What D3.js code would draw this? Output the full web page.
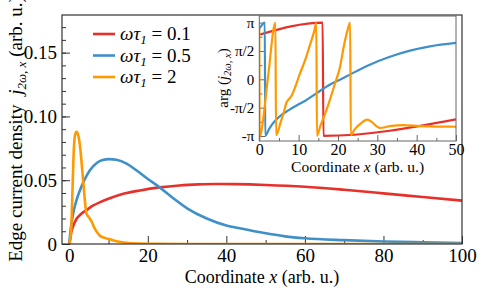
<!DOCTYPE html>
<html>
<head>
<meta charset="utf-8">
<script src="https://cdn.jsdelivr.net/npm/d3@7"></script>
<style>
  body { margin: 0; background: #fff; }
  svg text { font-family: 'Liberation Serif', 'Times New Roman', Times, 'DejaVu Serif', serif; fill: #000; }
</style>
</head>
<body>
<div id="chart"></div>
<script>
// main panel: edge current density vs coordinate
const redX = [0, 0.2, 0.5, 1, 1.9, 3, 4.4, 6, 8, 10.3, 14, 18, 23, 28, 33, 37, 42, 50, 60, 70, 80, 90, 100]
const redY = [0, 0.003, 0.009, 0.014, 0.020, 0.0235, 0.0266, 0.030, 0.033, 0.0358, 0.0395, 0.042, 0.0444, 0.0459, 0.0467, 0.047, 0.0469, 0.0463, 0.0449, 0.0425, 0.0397, 0.0368, 0.034]

const blueX = [0, 0.3, 1, 2, 2.7, 4, 5.3, 7, 8.5, 10.2, 12, 14.6, 17, 20, 23, 26, 30, 35, 40, 43.4, 50, 55, 60, 70, 80, 90, 100]
const blueY = [0, 0.010, 0.024, 0.036, 0.042, 0.051, 0.058, 0.0635, 0.0658, 0.0665, 0.066, 0.063, 0.058, 0.051, 0.0444, 0.037, 0.028, 0.020, 0.0145, 0.0123, 0.0084, 0.006, 0.0045, 0.003, 0.002, 0.0013, 0.0008]

const orangeX = [0, 0.2, 0.5, 0.8, 1.1, 1.5, 1.9, 2.3, 2.8, 3.3, 3.8, 4.4, 5.0, 5.7, 6.5, 7.8, 9, 10.3, 12, 14.6, 18, 22, 30, 40, 60, 80, 100]
const orangeY = [0, 0.003, 0.012, 0.040, 0.070, 0.086, 0.088, 0.085, 0.075, 0.058, 0.040, 0.0235, 0.021, 0.0175, 0.012, 0.0065, 0.0048, 0.0037, 0.0022, 0.001, 0.0004, 0.0002, 0, 0, 0, 0, 0]

const legendLabels = ['0.1', '0.5', '2']
const mainXTicks = [0, 20, 40, 60, 80, 100]
const mainYTicks = [0, 0.05, 0.10, 0.15]
const mainYTickLabels = ['0', '0.05', '0.10', '0.15']

// inset: phase arg(j) vs coordinate, wrapped to [-pi, pi]
const redPhaseX = [0, 16.1, 16.3, 50]
const redPhaseY = [2.47, 3.14, -3.14, -2.22]

const bluePhaseX = [0, 1.4, 1.5, 2.5, 4, 5.5, 7.4, 9.5, 11.6, 14.5, 17.9, 20.5, 23, 28.1, 33.2, 38.3, 43.4, 50]
const bluePhaseY = [2.80, 3.14, -3.13, -2.75, -2.3, -2.0, -1.72, -1.45, -1.2, -0.78, -0.30, -0.02, 0.26, 0.81, 1.25, 1.59, 1.83, 2.02]

const orangePhaseX = [0, 0.1, 0.25, 2.2, 4.1, 4.25, 4.8, 5.4, 6.1, 6.95, 7.5, 8.2, 9.1, 10.3, 11.6, 12.8, 14.0, 14.5, 14.65, 15.5, 16.7, 18, 19.2, 20.5, 21.6, 22.4, 23.1, 23.25, 24.3, 25.5, 27.5, 28.5, 29.8, 30.7, 33.2, 36.6, 40.8, 45, 50]
const orangePhaseY = [2.9, -3.14, -3.1, 0.1, 3.14, -3.1, -2.85, -2.4, -1.93, -1.27, -1.1, -0.91, -0.44, 0.3, 1.03, 1.85, 2.70, 3.14, -3.14, -2.6, -1.93, -1.1, -0.26, 0.67, 1.96, 2.7, 3.14, -3.1, -2.76, -2.5, -2.24, -2.35, -2.6, -2.7, -2.6, -2.54, -2.59, -2.62, -2.63]

const insetXTicks = [0, 10, 20, 30, 40, 50]
const insetYTicks = [-Math.PI, -Math.PI / 2, 0, Math.PI / 2, Math.PI]
const insetYTickLabels = ['-π', '-π/2', '0', 'π/2', 'π']

const colors = ['#e8302a', '#3f8fc9', '#ff9900']
const serif = "'Liberation Serif', 'Times New Roman', Times, 'DejaVu Serif', serif"

var width = 486,
  height = 292

var svg = d3
  .select('#chart')
  .append('svg')
  .attr('width', width)
  .attr('height', height)
  .attr('font-family', serif)

// main scales
var x = d3.scaleLinear().domain([-1.85, 100]).range([62, 462])
var y = d3.scaleLinear().domain([0, 0.1795]).range([244, 15])

svg.append('clipPath').attr('id', 'clipMain')
  .append('rect').attr('x', 62).attr('y', 15).attr('width', 400).attr('height', 229)

// minor ticks
svg.append('g')
  .attr('transform', 'translate(0,244)')
  .call(d3.axisBottom(x).tickValues([10, 30, 50, 70, 90]).tickSize(-4).tickFormat(''))
  .call(g => g.select('.domain').remove())
svg.append('g')
  .attr('transform', 'translate(62,0)')
  .call(d3.axisLeft(y).tickValues(d3.range(1, 18).map(d => d / 100)).tickSize(-4).tickFormat(''))
  .call(g => g.select('.domain').remove())

// major ticks
svg.append('g')
  .attr('transform', 'translate(0,244)')
  .call(d3.axisBottom(x).tickValues(mainXTicks).tickSize(-8).tickPadding(5).tickFormat(d3.format('d')))
  .call(g => g.select('.domain').remove())
  .call(g => g.selectAll('text').attr('font-size', 19))
svg.append('g')
  .attr('transform', 'translate(62,0)')
  .call(d3.axisLeft(y).tickValues(mainYTicks).tickSize(-8).tickPadding(5)
    .tickFormat((d, i) => mainYTickLabels[i]))
  .call(g => g.select('.domain').remove())
  .call(g => g.selectAll('text').attr('font-size', 19))

svg.selectAll('.tick line').attr('stroke', '#333')
svg.selectAll('g').attr('font-family', serif)

// curves
var line = d3.line()
  .x(d => x(d[0]))
  .y(d => y(d[1]))
  .curve(d3.curveMonotoneX)

var mainSeries = [
  d3.zip(redX, redY),
  d3.zip(blueX, blueY),
  d3.zip(orangeX, orangeY)
]

svg.append('g')
  .attr('clip-path', 'url(#clipMain)')
  .selectAll('path')
  .data(mainSeries)
  .enter()
  .append('path')
  .attr('d', line)
  .attr('fill', 'none')
  .attr('stroke', (d, i) => colors[i])
  .attr('stroke-width', 2.6)
  .attr('stroke-linejoin', 'round')

// frame
svg.append('rect')
  .attr('x', 62).attr('y', 15).attr('width', 400).attr('height', 229)
  .attr('fill', 'none').attr('stroke', '#333').attr('stroke-width', 1.2)

// axis labels
var xlab = svg.append('text')
  .attr('x', 262).attr('y', 282.5)
  .attr('text-anchor', 'middle')
  .attr('font-size', 18)
xlab.append('tspan').text('Coordinate ')
xlab.append('tspan').attr('font-style', 'italic').text('x')
xlab.append('tspan').text(' (arb. u.)')

var ylab = svg.append('text')
  .attr('transform', 'translate(22,129)rotate(-90)')
  .attr('text-anchor', 'middle')
  .attr('font-size', 19)
ylab.append('tspan').text('Edge current density ')
ylab.append('tspan').attr('dx', 5).attr('font-style', 'italic').text('j')
ylab.append('tspan').attr('dy', 4).attr('font-size', 13).attr('font-style', 'italic').text('2ω, x')
ylab.append('tspan').attr('dy', -4).text(' (arb. u.)')

// legend
var legend = svg.append('g')
legendLabels.forEach(function(lab, i) {
  var ly = 34 + i * 21.5
  legend.append('line')
    .attr('x1', 93).attr('x2', 115).attr('y1', ly).attr('y2', ly)
    .attr('stroke', colors[i]).attr('stroke-width', 2.6)
  var t = legend.append('text')
    .attr('x', 120).attr('y', ly + 6)
    .attr('font-size', 19)
  t.append('tspan').attr('font-style', 'italic').text('ωτ')
  t.append('tspan').attr('font-style', 'italic').attr('font-size', 13).attr('dy', 4).text('1')
  t.append('tspan').attr('dy', -4).text(' = ' + lab)
})

// inset
var xi = d3.scaleLinear().domain([0, 50]).range([259.3, 456])
var yi = d3.scaleLinear().domain([-3.42, 3.51]).range([141, 16])

svg.append('rect')
  .attr('x', 259.3).attr('y', 16).attr('width', 196.7).attr('height', 125)
  .attr('fill', '#fff')

svg.append('clipPath').attr('id', 'clipInset')
  .append('rect').attr('x', 259.3).attr('y', 16).attr('width', 196.7).attr('height', 125)

var inset = svg.append('g')

inset.append('g')
  .attr('transform', 'translate(0,141)')
  .call(d3.axisBottom(xi).tickValues([5, 15, 25, 35, 45]).tickSize(-3).tickFormat(''))
  .call(g => g.select('.domain').remove())
inset.append('g')
  .attr('transform', 'translate(259.3,0)')
  .call(d3.axisLeft(yi).tickValues([-3, -1, 1, 3].map(k => k * Math.PI / 4)).tickSize(-3).tickFormat(''))
  .call(g => g.select('.domain').remove())

inset.append('g')
  .attr('transform', 'translate(0,141)')
  .call(d3.axisBottom(xi).tickValues(insetXTicks).tickSize(-6).tickPadding(3).tickFormat(d3.format('d')))
  .call(g => g.select('.domain').remove())
  .call(g => g.selectAll('text').attr('font-size', 16))
inset.append('g')
  .attr('transform', 'translate(259.3,0)')
  .call(d3.axisLeft(yi).tickValues(insetYTicks).tickSize(-6).tickPadding(5)
    .tickFormat((d, i) => insetYTickLabels[i]))
  .call(g => g.select('.domain').remove())
  .call(g => g.selectAll('text').attr('font-size', 15))

inset.selectAll('.tick line').attr('stroke', '#666')
inset.selectAll('g').attr('font-family', serif)

var linei = d3.line()
  .x(d => xi(d[0]))
  .y(d => yi(d[1]))
  .curve(d3.curveMonotoneX)

var insetSeries = [
  d3.zip(redPhaseX, redPhaseY),
  d3.zip(bluePhaseX, bluePhaseY),
  d3.zip(orangePhaseX, orangePhaseY)
]

inset.append('g')
  .attr('clip-path', 'url(#clipInset)')
  .selectAll('path')
  .data(insetSeries)
  .enter()
  .append('path')
  .attr('d', linei)
  .attr('fill', 'none')
  .attr('stroke', (d, i) => colors[i])
  .attr('stroke-width', 2.2)
  .attr('stroke-linejoin', 'round')

inset.append('rect')
  .attr('x', 259.3).attr('y', 16).attr('width', 196.7).attr('height', 125)
  .attr('fill', 'none').attr('stroke', '#666').attr('stroke-width', 1)

var xlabi = inset.append('text')
  .attr('x', 357.6).attr('y', 172)
  .attr('text-anchor', 'middle')
  .attr('font-size', 15.5)
xlabi.append('tspan').text('Coordinate ')
xlabi.append('tspan').attr('font-style', 'italic').text('x')
xlabi.append('tspan').text(' (arb. u.)')

var ylabi = inset.append('text')
  .attr('transform', 'translate(228,78)rotate(-90)')
  .attr('text-anchor', 'middle')
  .attr('font-size', 15)
ylabi.append('tspan').text('arg (')
ylabi.append('tspan').attr('font-style', 'italic').text('j')
ylabi.append('tspan').attr('dy', 3).attr('font-size', 10.5).attr('font-style', 'italic').text('2ω, x')
ylabi.append('tspan').attr('dy', -3).text(')')
</script>
</body>
</html>
